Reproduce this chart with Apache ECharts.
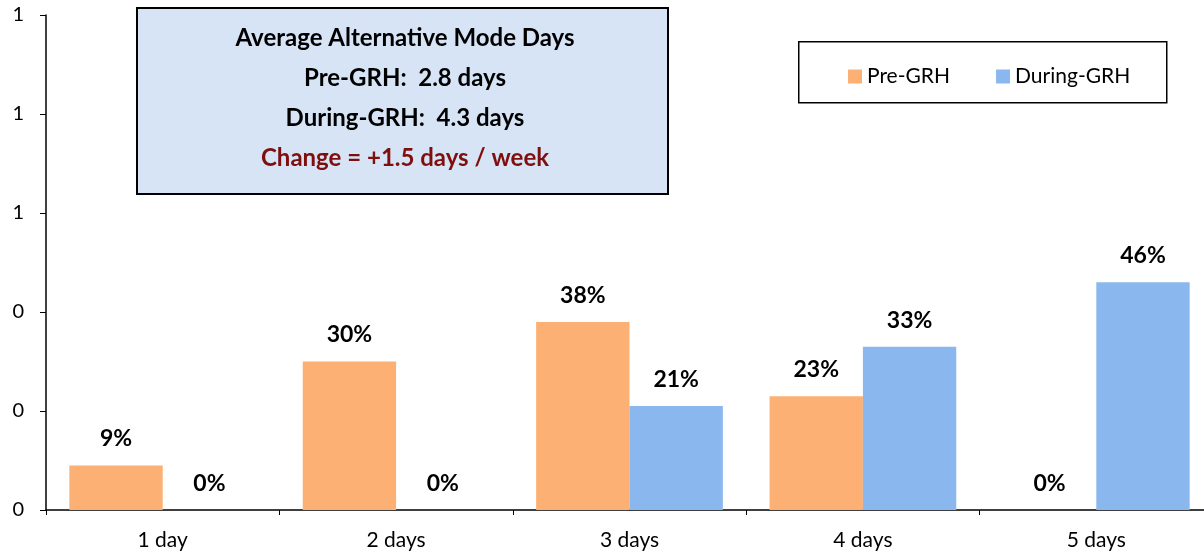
<!DOCTYPE html>
<html>
<head>
<meta charset="utf-8">
<script src="https://cdn.jsdelivr.net/npm/echarts@6/dist/echarts.min.js"></script>
<style>html,body{margin:0;padding:0;background:#fff;overflow:hidden}#c{width:1216px;height:552px}</style>
</head>
<body>
<div id="c"></div>
<script>
const categories = ['1 day', '2 days', '3 days', '4 days', '5 days'];
const preGRH = [0.09, 0.30, 0.38, 0.23, 0];
const duringGRH = [0, 0, 0.21, 0.33, 0.46];
const yTickLabels = ['0', '0', '0', '1', '1', '1'];
const seriesNames = ['Pre-GRH', 'During-GRH'];
const boxLines = ['Average Alternative Mode Days', 'Pre-GRH:  2.8 days', 'During-GRH:  4.3 days', 'Change = +1.5 days / week'];

const FONT = 'Lato, "Open Sans", sans-serif';
const chart = echarts.init(document.getElementById('c'));
const labelCfg = {
  show: true, position: 'top', distance: 15,
  fontFamily: FONT, fontSize: 23, fontWeight: 'bold', color: '#000',
  formatter: p => Math.round(p.value * 100) + '%'
};
chart.setOption({
  animation: false,
  grid: { left: 46, top: 15, width: 1167, height: 495, containLabel: false },
  legend: {
    data: seriesNames, left: 843, top: 61, itemWidth: 14, itemHeight: 14, itemGap: 46,
    icon: 'rect',
    textStyle: { fontFamily: FONT, fontSize: 21, color: '#000' }
  },
  xAxis: {
    type: 'category', data: categories,
    axisLine: { lineStyle: { color: '#000', width: 1.5 } },
    axisTick: { show: true, length: 5, lineStyle: { color: '#000', width: 1 } },
    axisLabel: { fontFamily: FONT, fontSize: 21, color: '#000', margin: 20 }
  },
  yAxis: {
    type: 'value', min: 0, max: 1, interval: 0.2,
    splitLine: { show: false },
    axisLine: { show: true, lineStyle: { color: '#000', width: 1.5 } },
    axisTick: { show: true, length: 6, lineStyle: { color: '#000' } },
    axisLabel: { fontFamily: FONT, fontSize: 20, color: '#000', margin: 22,
      formatter: (v, i) => yTickLabels[i] }
  },
  series: [
    { name: seriesNames[0], type: 'bar', data: preGRH, barGap: '0%', barCategoryGap: '20%',
      itemStyle: { color: '#FDB073', borderWidth: 0 },
      label: labelCfg },
    { name: seriesNames[1], type: 'bar', data: duringGRH,
      itemStyle: { color: '#8AB8EE', borderWidth: 0 },
      label: labelCfg }
  ],
  graphic: [
    { type: 'rect', left: 798, top: 41, shape: { width: 368, height: 61 }, z: 0,
      style: { fill: '#fff', stroke: '#000', lineWidth: 1.5 } },
    { type: 'rect', left: 136, top: 7, shape: { width: 531, height: 186 }, z: 10,
      style: { fill: '#D6E4F6', stroke: '#000', lineWidth: 2 } },
    { type: 'text', x: 405, y: 38, z: 11, style: { text: boxLines[0], align: 'center', verticalAlign: 'middle', font: 'bold 24px ' + FONT, fill: '#000' } },
    { type: 'text', x: 405, y: 78, z: 11, style: { text: boxLines[1], align: 'center', verticalAlign: 'middle', font: 'bold 24px ' + FONT, fill: '#000' } },
    { type: 'text', x: 405, y: 118, z: 11, style: { text: boxLines[2], align: 'center', verticalAlign: 'middle', font: 'bold 24px ' + FONT, fill: '#000' } },
    { type: 'text', x: 405, y: 158, z: 11, style: { text: boxLines[3], align: 'center', verticalAlign: 'middle', font: 'bold 24px ' + FONT, fill: '#7F0F0F' } }
  ]
});
</script>
</body>
</html>
